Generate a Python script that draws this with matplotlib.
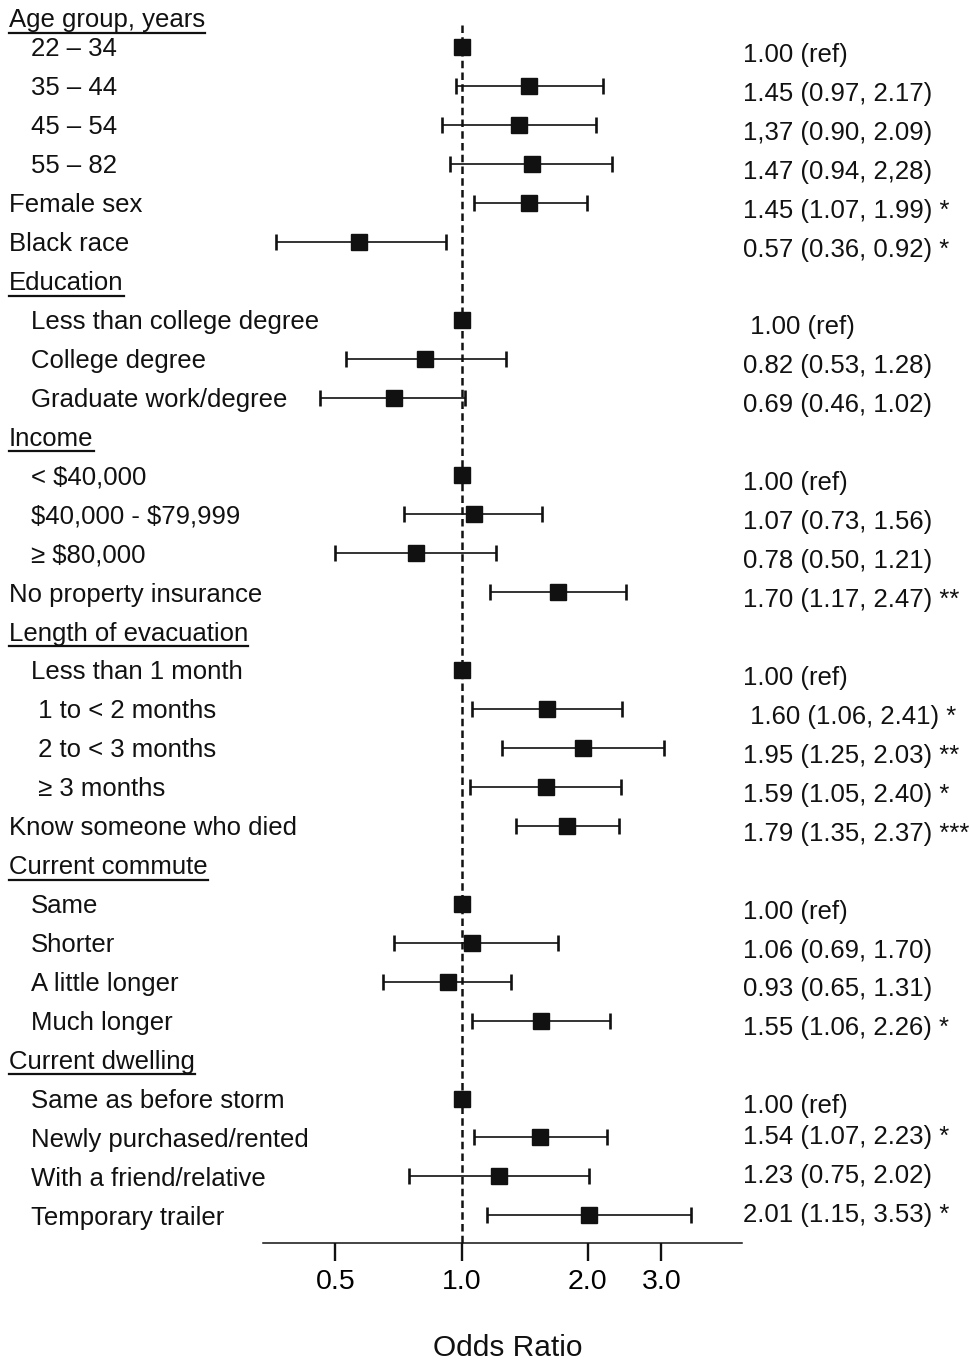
import matplotlib
matplotlib.use('Agg')
import matplotlib.pyplot as plt
import numpy as np
from matplotlib.lines import Line2D
from matplotlib.ticker import NullLocator
from matplotlib.transforms import blended_transform_factory

plt.rcParams['font.family'] = ['Liberation Sans', 'DejaVu Sans']
plt.rcParams['text.parse_math'] = False

nan = np.nan

# rows from top to bottom
labels = ['Age group, years', '22 – 34', '35 – 44', '45 – 54', '55 – 82',
          'Female sex', 'Black race',
          'Education', 'Less than college degree', 'College degree', 'Graduate work/degree',
          'Income', '< $40,000', '$40,000 - $79,999', '≥ $80,000',
          'No property insurance',
          'Length of evacuation', 'Less than 1 month', ' 1 to < 2 months', ' 2 to < 3 months', ' ≥ 3 months',
          'Know someone who died',
          'Current commute', 'Same', 'Shorter', 'A little longer', 'Much longer',
          'Current dwelling', 'Same as before storm', 'Newly purchased/rented',
          'With a friend/relative', 'Temporary trailer']
# h = underlined heading, m = main item, i = indented item
kinds = ['h', 'i', 'i', 'i', 'i', 'm', 'm',
         'h', 'i', 'i', 'i',
         'h', 'i', 'i', 'i', 'm',
         'h', 'i', 'i', 'i', 'i', 'm',
         'h', 'i', 'i', 'i', 'i',
         'h', 'i', 'i', 'i', 'i']

odds = [nan, 1.00, 1.45, 1.37, 1.47, 1.45, 0.57,
        nan, 1.00, 0.82, 0.69,
        nan, 1.00, 1.07, 0.78, 1.70,
        nan, 1.00, 1.60, 1.95, 1.59, 1.79,
        nan, 1.00, 1.06, 0.93, 1.55,
        nan, 1.00, 1.54, 1.23, 2.01]
ci_low = [nan, nan, 0.97, 0.90, 0.94, 1.07, 0.36,
          nan, nan, 0.53, 0.46,
          nan, nan, 0.73, 0.50, 1.17,
          nan, nan, 1.06, 1.25, 1.05, 1.35,
          nan, nan, 0.69, 0.65, 1.06,
          nan, nan, 1.07, 0.75, 1.15]
# upper bound of "2 to < 3 months" is drawn at ~3.05 in the figure
ci_high = [nan, nan, 2.17, 2.09, 2.28, 1.99, 0.92,
           nan, nan, 1.28, 1.02,
           nan, nan, 1.56, 1.21, 2.47,
           nan, nan, 2.41, 3.05, 2.40, 2.37,
           nan, nan, 1.70, 1.31, 2.26,
           nan, nan, 2.23, 2.02, 3.53]

est_text = ['', '1.00 (ref)', '1.45 (0.97, 2.17)', '1,37 (0.90, 2.09)', '1.47 (0.94, 2,28)',
            '1.45 (1.07, 1.99) *', '0.57 (0.36, 0.92) *',
            '', ' 1.00 (ref)', '0.82 (0.53, 1.28)', '0.69 (0.46, 1.02)',
            '', '1.00 (ref)', '1.07 (0.73, 1.56)', '0.78 (0.50, 1.21)', '1.70 (1.17, 2.47) **',
            '', '1.00 (ref)', ' 1.60 (1.06, 2.41) *', '1.95 (1.25, 2.03) **', '1.59 (1.05, 2.40) *',
            '1.79 (1.35, 2.37) ***',
            '', '1.00 (ref)', '1.06 (0.69, 1.70)', '0.93 (0.65, 1.31)', '1.55 (1.06, 2.26) *',
            '', '1.00 (ref)', '1.54 (1.07, 2.23) *', '1.23 (0.75, 2.02)', '2.01 (1.15, 3.53) *']

tick_vals = [0.5, 1.0, 2.0, 3.0]
tick_labels = ['0.5', '1.0', '2.0', '3.0']

W, H = 971, 1362
fig = plt.figure(figsize=(W / 100, H / 100), dpi=100)
ax = fig.add_axes([263 / W, 1 - 1243 / H, (742 - 263) / W, 1243 / H])

ink = '#111111'
y = np.arange(len(labels), dtype=float)
odds = np.array(odds)
lo = np.array(ci_low)
hi = np.array(ci_high)

# confidence intervals
has_ci = ~np.isnan(lo)
ax.errorbar(odds[has_ci], y[has_ci], xerr=[odds[has_ci] - lo[has_ci], hi[has_ci] - odds[has_ci]],
            fmt='none', ecolor=ink, elinewidth=1.2, capsize=5.5, capthick=1.9, zorder=2)
# point estimates
has_pt = ~np.isnan(odds)
ax.plot(odds[has_pt], y[has_pt], 's', ms=12, color=ink, zorder=3)

ax.set_xscale('log')
ax.set_xlim(0.336, 4.67)
ax.set_ylim(31.71, -0.207)

# reference line at OR = 1
ax.plot([1, 1], [0.435, 31.71], color=ink, lw=1.8, ls=(0, (3.0, 1.7)), zorder=1, clip_on=False)

ax.set_xticks(tick_vals)
ax.set_xticklabels(tick_labels, fontsize=20.5)
ax.xaxis.set_minor_locator(NullLocator())
ax.set_yticks([])
for s in ['left', 'top', 'right']:
    ax.spines[s].set_visible(False)
ax.spines['bottom'].set_linewidth(1.1)
ax.spines['bottom'].set_color(ink)
ax.tick_params(axis='x', direction='out', length=13, width=1.7, color=ink, pad=6)
ax.patch.set_alpha(0)

trans = blended_transform_factory(fig.transFigure, ax.transData)
left_text = []
for i, (lab, k) in enumerate(zip(labels, kinds)):
    x0 = 31 / W if k == 'i' else 9 / W
    yy = y[i] + 0.06
    if i == 0:
        yy += 0.25
    t = ax.text(x0, yy, lab, transform=trans, fontsize=18.5, va='center', ha='left',
                color=ink, clip_on=False)
    left_text.append((t, k))
    if est_text[i]:
        dy = 0.2 if i < 29 else 0.0
        ax.text(742.5 / W, y[i] + dy, est_text[i], transform=trans, fontsize=18.5,
                va='center', ha='left', color=ink, clip_on=False)

fig.text(508 / W, 1 - 1348 / H, 'Odds Ratio', fontsize=21.5, ha='center', va='center', color=ink)

# underline the group headings
fig.canvas.draw()
renderer = fig.canvas.get_renderer()
inv = fig.transFigure.inverted()
for t, k in left_text:
    if k != 'h':
        continue
    bb = t.get_window_extent(renderer)
    (fx0, fy0), (fx1, _) = inv.transform([(bb.x0, bb.y0 - 0.5), (bb.x1, bb.y0)])
    fig.add_artist(Line2D([fx0, fx1], [fy0, fy0], transform=fig.transFigure,
                          color=ink, lw=1.6))

fig.savefig('out.png', dpi=100)
